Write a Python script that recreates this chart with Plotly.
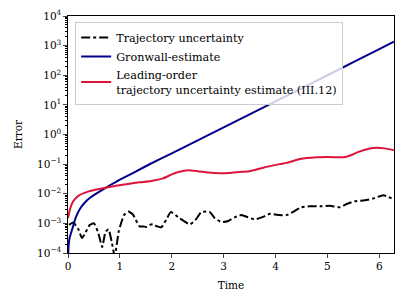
import plotly.graph_objects as go

# ---- data ----
t_traj = [0.02, 0.1, 0.2, 0.27, 0.34, 0.42, 0.5, 0.58, 0.66, 0.72, 0.78, 0.84, 0.9, 0.98,
          1.08, 1.16, 1.25, 1.38, 1.45, 1.51, 1.57, 1.64, 1.72, 1.8, 1.9, 1.98, 2.15, 2.35,
          2.47, 2.57, 2.73, 2.83, 2.96, 3.09, 3.21, 3.34, 3.47, 3.6, 3.76, 3.89, 4.05, 4.21,
          4.34, 4.5, 4.66, 4.89, 5.05, 5.24, 5.37, 5.53, 5.72, 5.88, 6.08, 6.28]
err_traj = [8.9e-4, 1.07e-3, 6.3e-4, 3.2e-4, 5.0e-4, 8.9e-4, 1.0e-3, 5.0e-4, 1.6e-4, 5.0e-4,
            6.3e-4, 2.5e-4, 7.9e-5, 5.6e-4, 1.9e-3, 2.5e-3, 2.0e-3, 7.9e-4, 7.9e-4, 7.6e-4,
            8.9e-4, 9.3e-4, 7.9e-4, 7.4e-4, 1.4e-3, 2.4e-3, 1.5e-3, 9.3e-4, 1.4e-3, 2.4e-3,
            2.45e-3, 1.5e-3, 1.1e-3, 1.2e-3, 1.6e-3, 1.9e-3, 1.6e-3, 1.35e-3, 1.66e-3, 2.1e-3,
            1.9e-3, 1.9e-3, 2.45e-3, 3.5e-3, 3.8e-3, 3.8e-3, 3.9e-3, 3.5e-3, 4.5e-3, 5.6e-3,
            6.0e-3, 6.9e-3, 8.9e-3, 6.5e-3]

t_gron = [0.0, 0.01, 0.03, 0.08, 0.15, 0.25, 0.34, 0.45, 0.6, 0.8, 1.0, 1.25, 1.6, 2.0,
          2.5, 3.0, 3.5, 4.0, 4.5, 5.0, 5.5, 6.0, 6.28]
err_gron = [5e-5, 1.6e-4, 3.2e-4, 6.3e-4, 1.6e-3, 3.5e-3, 5.4e-3, 7.9e-3, 1.15e-2, 1.9e-2,
            3.0e-2, 5.0e-2, 0.105, 0.23, 0.63, 1.74, 4.8, 13.2, 36.3, 100, 275, 760, 1350]

t_lead = [0.0, 0.02, 0.05, 0.1, 0.2, 0.4, 0.6, 0.8, 1.05, 1.27, 1.45, 1.6, 1.83, 2.0, 2.15,
          2.31, 2.5, 2.7, 2.92, 3.1, 3.34, 3.5, 3.76, 4.08, 4.21, 4.47, 4.79, 5.02, 5.31,
          5.45, 5.6, 5.8, 5.95, 6.1, 6.28]
err_lead = [1.5e-3, 2.2e-3, 3.5e-3, 5.6e-3, 8.5e-3, 1.2e-2, 1.45e-2, 1.7e-2, 2.0e-2, 2.3e-2,
            2.5e-2, 2.7e-2, 3.3e-2, 4.5e-2, 5.5e-2, 6.2e-2, 5.75e-2, 5.2e-2, 4.9e-2, 5.0e-2,
            5.5e-2, 5.75e-2, 7.6e-2, 0.1, 0.11, 0.148, 0.17, 0.174, 0.17, 0.2, 0.26, 0.33,
            0.355, 0.34, 0.295]

y_tick_exps = [-4, -3, -2, -1, 0, 1, 2, 3, 4]
x_ticks = [0, 1, 2, 3, 4, 5, 6]

names = ["Trajectory uncertainty", "Gronwall-estimate",
         "Leading-order<br>trajectory uncertainty estimate (III.12)"]

FONT = "DejaVu Serif"

fig = go.Figure()
fig.add_trace(go.Scatter(x=t_traj, y=err_traj, mode="lines", name=names[0],
                         line=dict(color="black", width=2, dash="dashdot", shape="spline", smoothing=0.5)))
fig.add_trace(go.Scatter(x=t_gron, y=err_gron, mode="lines", name=names[1],
                         line=dict(color="#00008B", width=2, shape="spline", smoothing=0.3)))
fig.add_trace(go.Scatter(x=t_lead, y=err_lead, mode="lines", name=names[2],
                         line=dict(color="#DC143C", width=2, shape="spline", smoothing=0.5)))

minor_vals = [m * 10.0 ** e for e in y_tick_exps[:-1] for m in range(2, 10)]
ytext = ["10<sup>%s</sup>" % (str(e).replace("-", "\u2212")) for e in y_tick_exps]

fig.update_layout(
    width=406, height=305,
    margin=dict(l=68, r=12, t=16, b=52, autoexpand=False),
    paper_bgcolor="white", plot_bgcolor="white",
    font=dict(family=FONT, size=10, color="black"),
    showlegend=True,
    legend=dict(x=0.022, y=0.975, xanchor="left", yanchor="top",
                bgcolor="rgba(255,255,255,0.8)", bordercolor="#cccccc", borderwidth=1,
                font=dict(family=FONT, size=11.2), itemwidth=30, tracegroupgap=0),
    xaxis=dict(range=[0, 6.2832], tickvals=x_ticks, ticks="outside", ticklen=3.5, tickwidth=1,
               showline=True, linecolor="black", linewidth=1.2, mirror=True,
               showgrid=False, zeroline=False, automargin=False,
               title=dict(text="Time", font=dict(family=FONT, size=10.5), standoff=10),
               tickfont=dict(family=FONT, size=10.5)),
    yaxis=dict(type="log", range=[-4, 4], tickvals=[10.0 ** e for e in y_tick_exps],
               ticktext=ytext, ticks="outside", ticklen=3.5, tickwidth=1,
               minor=dict(tickvals=minor_vals, ticks="outside", ticklen=2, tickwidth=0.8,
                          showgrid=False, tickcolor="black"),
               showline=True, linecolor="black", linewidth=1.2, mirror=True,
               showgrid=False, zeroline=False, automargin=False,
               title=dict(text="Error", font=dict(family=FONT, size=10.5), standoff=12),
               tickfont=dict(family=FONT, size=10.5)),
)

fig.write_html("out.html", config={"displayModeBar": False},
               post_script="document.body.style.margin='0';")
